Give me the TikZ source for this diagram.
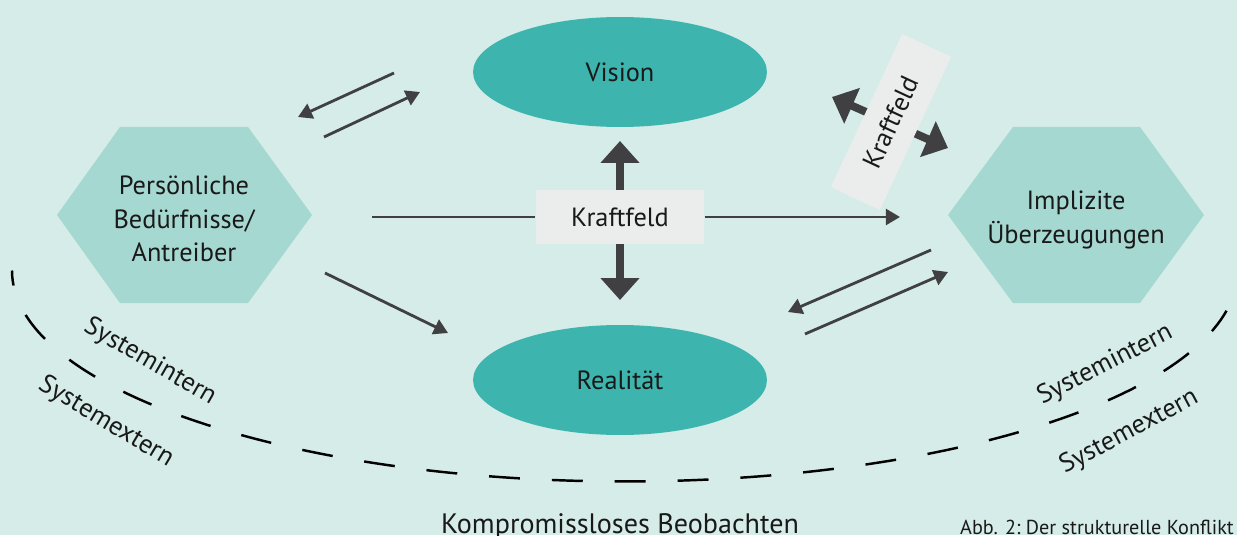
\documentclass[tikz,border=0pt]{standalone}
\usepackage{fontspec}
\setmainfont{PT Sans}
\usetikzlibrary{arrows.meta,positioning,shapes.geometric}

\definecolor{bgmint}{RGB}{213,236,232}
\definecolor{ovalteal}{RGB}{61,181,174}
\definecolor{hexmint}{RGB}{166,216,210}
\definecolor{boxgrey}{RGB}{234,237,236}
\definecolor{arrowgrey}{RGB}{64,64,66}

\begin{document}
\begin{tikzpicture}[x=0.02cm, y=0.02cm,
    every node/.style={font=\fontsize{15}{19}\selectfont, text=black!90},
    oval/.style={ellipse, fill=ovalteal, minimum width=5.88cm, minimum height=2.2cm},
    hex/.style={fill=hexmint},
    field/.style={fill=boxgrey, minimum width=3.38cm, minimum height=1.08cm, inner sep=0pt},
    flow/.style={arrowgrey, line width=1.6pt, -{Triangle[length=8pt,width=9pt]}},
    force/.style={arrowgrey, line width=4.5pt, -{Triangle[length=12.5pt,width=21.5pt]}},
    sysline/.style={line width=1.4pt, dash pattern=on 17.6pt off 18.2pt, dash phase=9pt},
  ]
  \useasboundingbox (0,0) rectangle (1237,535);
  \fill[bgmint] (0,0) rectangle (1237,535);

  \coordinate (arcstart) at (12,264.5);
  \draw[sysline] (arcstart) arc[start angle=180, end angle=349, x radius=12.26cm, y radius=4.22cm];

  \fill[hex] (57,320) -- (120,408) -- (248,408) -- (312,320) -- (248,232) -- (120,232) -- cycle;
  \node[align=center] (needs) at (184,316) {Persönliche\\Bedürfnisse/\\Antreiber};
  \fill[hex] (948,320) -- (1013,408) -- (1140,408) -- (1204,320) -- (1140,232) -- (1013,232) -- cycle;
  \node[align=center] (beliefs) at (1076,315) {Implizite\\Überzeugungen};

  \node[oval] (vision) at (620,463) {Vision};
  \node[oval] (reality) at (620,155) {Realität};

  \coordinate (a1) at (394,462);
  \coordinate (a2) at (298,418);
  \coordinate (b1) at (324,398);
  \coordinate (b2) at (420,443);
  \draw[flow] (a1) -- (a2);
  \draw[flow] (b1) -- (b2);

  \coordinate (c1) at (931,285);
  \coordinate (c2) at (788,223);
  \coordinate (d1) at (805,201);
  \coordinate (d2) at (948,263);
  \draw[flow] (c1) -- (c2);
  \draw[flow] (d1) -- (d2);

  \coordinate (e1) at (325,262);
  \coordinate (e2) at (448,202);
  \draw[flow] (e1) -- (e2);

  \node[field] (field) at (620,318) {Kraftfeld};
  \coordinate (hl) at (372,318);
  \coordinate (hr) at (900,318);
  \draw[arrowgrey, line width=1.6pt] (hl) -- (field.west);
  \draw[flow] (field.east) -- (hr);
  \coordinate (up) at (620,394);
  \coordinate (down) at (620,235);
  \draw[force] (field.north) -- (up);
  \draw[force] (field.south) -- (down);

  \coordinate (fl) at (832,438);
  \coordinate (fr) at (948,387);
  \draw[force, {Triangle[length=12.5pt,width=21.5pt]}-{Triangle[length=12.5pt,width=21.5pt]}] (fl) -- (fr);
  \node[field, rotate=65] (field2) at (891,413) {Kraftfeld};

  \node[rotate=-30] (inleft) at (150,173) {Systemintern};
  \node[rotate=-31] (exleft) at (106,113) {Systemextern};
  \node[rotate=27] (inright) at (1105,170) {Systemintern};
  \node[rotate=28] (exright) at (1129,103) {Systemextern};

  \node[anchor=base, font=\fontsize{16}{19}\selectfont] (observe) at (620,2) {Kompromissloses Beobachten};
  \node[anchor=base east, font=\fontsize{11.5}{13}\selectfont] (caption) at (1240,1) {Abb. 2:\ Der strukturelle Konflikt};
\end{tikzpicture}
\end{document}
